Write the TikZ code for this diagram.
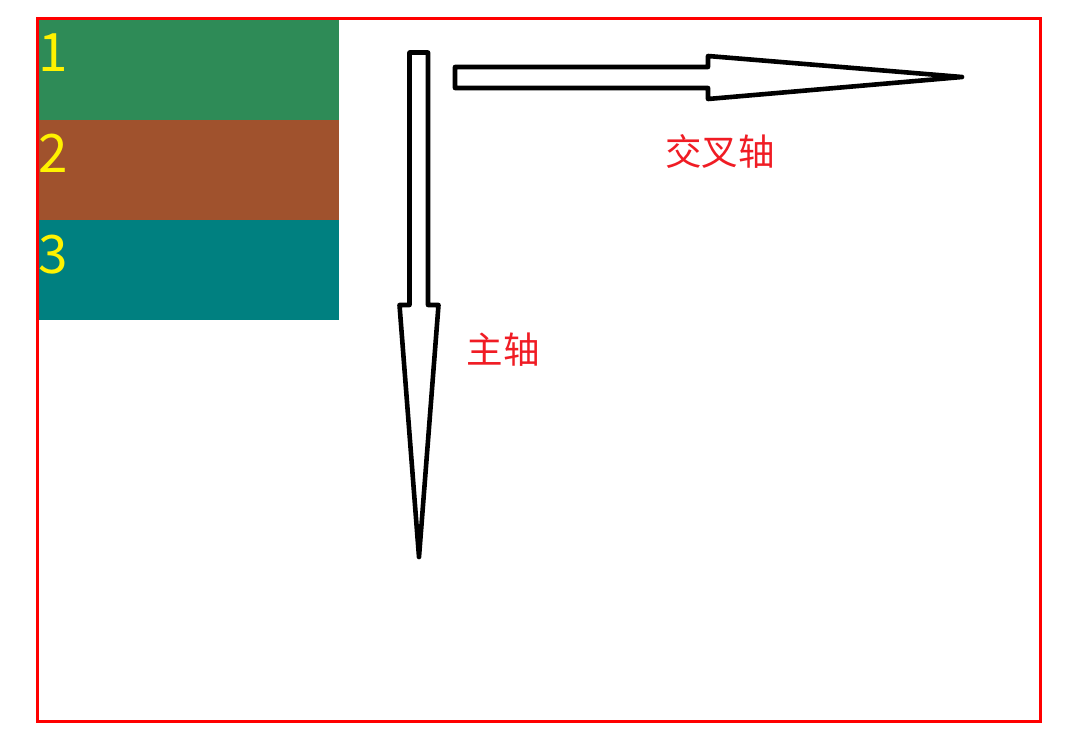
\documentclass[tikz,border=0pt]{standalone}
\usepackage{fontspec}
\newfontfamily\cjkfont{Noto Sans CJK SC}
\definecolor{boxgreen}{HTML}{2E8B57}
\definecolor{boxbrown}{HTML}{A0522D}
\definecolor{boxteal}{HTML}{008080}
\definecolor{lblred}{HTML}{F01C24}
\begin{document}
\begin{tikzpicture}[x=1pt,y=-1pt,
  band/.style={draw=none,minimum width=300pt,minimum height=100pt,inner sep=0pt,anchor=north west},
  num/.style={text=yellow,font=\cjkfont\fontsize{53}{53}\selectfont,inner sep=0pt,anchor=base west},
  lbl/.style={text=lblred,font=\cjkfont\fontsize{36.5}{36.5}\selectfont,inner sep=0pt},
  bigarrow/.style={draw=black,line width=4.6pt,fill=white,line join=round}]
\useasboundingbox (0,0) rectangle (1075,743);
\fill[white] (0,0) rectangle (1075,743);
% bands
\node[band,fill=boxgreen] (b1) at (39,20) {};
\node[band,fill=boxbrown] (b2) at (39,119.5) {};
\node[band,fill=boxteal] (b3) at (39,219.5) {};
\node[num] (n1) at (38,72) {1};
\node[num] (n2) at (38,173) {2};
\node[num] (n3) at (38,273) {3};
% frame
\draw[red,line width=3pt] (37.5,18.5) rectangle (1040,721);
% main axis arrow (vertical)
\draw[bigarrow] (409.5,52.5) -- (428,52.5) -- (428,305) -- (438.5,305) -- (419,557) -- (399.5,305) -- (409.5,305) -- cycle;
% cross axis arrow (horizontal)
\draw[bigarrow] (455,67) -- (708,67) -- (708,56) -- (962,77) -- (708,99) -- (708,88) -- (455,88) -- cycle;
% labels
\node[lbl] (cross) at (720,152) {交叉轴};
\node[lbl] (main) at (503,350) {主轴};
\end{tikzpicture}
\end{document}
